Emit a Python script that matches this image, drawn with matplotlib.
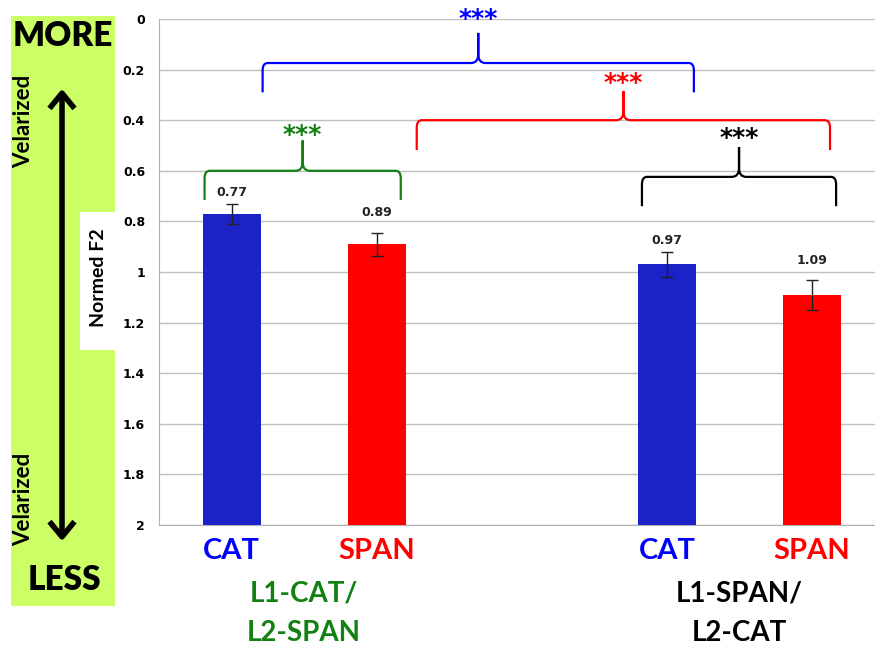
import matplotlib
matplotlib.use("Agg")
import matplotlib.pyplot as plt
from matplotlib.patches import Rectangle, PathPatch, FancyArrowPatch
from matplotlib.path import Path

W, H = 875, 647
DPI = 100

# ---- data ----
categories = ["CAT", "SPAN", "CAT", "SPAN"]
normed_f2 = [0.77, 0.89, 0.97, 1.09]
errors = [0.04, 0.045, 0.05, 0.06]
value_labels = ["0.77", "0.89", "0.97", "1.09"]
groups = ["L1-CAT/\nL2-SPAN", "L1-SPAN/\nL2-CAT"]
y_ticks = [0, 0.2, 0.4, 0.6, 0.8, 1.0, 1.2, 1.4, 1.6, 1.8, 2.0]
y_tick_labels = ["0", "0.2", "0.4", "0.6", "0.8", "1", "1.2", "1.4", "1.6", "1.8", "2"]

# ---- layout / style ----
positions = [0, 1, 3, 4]
bar_colors = ["#1a22c8", "#ff0000", "#1a22c8", "#ff0000"]
label_colors = ["#0000ff", "#ff0000", "#0000ff", "#ff0000"]
group_colors = ["#128012", "black"]
label_gap_px = [11, 20, 11, 19]
# (x0, x1, y level, y end, y peak, y stars, color)
brackets = [
    (-0.186, 1.166, 0.600, 0.715, 0.480, 0.460, "#128012"),
    (0.214, 3.186, 0.174, 0.290, 0.055, 0.000, "#0000ff"),
    (1.276, 4.124, 0.400, 0.518, 0.285, 0.252, "#ff0000"),
    (2.828, 4.166, 0.624, 0.740, 0.506, 0.472, "black"),
]
FONT = "Lato"


def fx(px):
    return px / W


def fy(py):
    return 1 - py / H


def brace_path(x0, x1, yh, yend, ypeak):
    xc = (x0 + x1) / 2
    dx, dy = 0.035, 0.03
    dcx, dcy = 0.05, 0.035
    verts = [
        (x0, yend), (x0, yh + dy),
        (x0, yh), (x0 + dx, yh),
        (xc - dcx, yh),
        (xc, yh), (xc, yh - dcy),
        (xc, ypeak),
        (xc, yh - dcy),
        (xc, yh), (xc + dcx, yh),
        (x1 - dx, yh),
        (x1, yh), (x1, yh + dy),
        (x1, yend),
    ]
    codes = [
        Path.MOVETO, Path.LINETO,
        Path.CURVE3, Path.CURVE3,
        Path.LINETO,
        Path.CURVE3, Path.CURVE3,
        Path.LINETO,
        Path.LINETO,
        Path.CURVE3, Path.CURVE3,
        Path.LINETO,
        Path.CURVE3, Path.CURVE3,
        Path.LINETO,
    ]
    return Path(verts, codes)


fig = plt.figure(figsize=(W / DPI, H / DPI), dpi=DPI)
fig.patch.set_facecolor("white")

# left green panel with the "Normed F2" notch
fig.patches.append(Rectangle((fx(11), fy(606)), fx(104), 590 / H,
                             transform=fig.transFigure, facecolor="#ccff66",
                             edgecolor="none", zorder=0))
fig.patches.append(Rectangle((fx(80), fy(350)), fx(36), 138 / H,
                             transform=fig.transFigure, facecolor="white",
                             edgecolor="none", zorder=1))
fig.text(fx(63), fy(36), "MORE", fontsize=24, fontweight="heavy", family=FONT,
         ha="center", va="center")
fig.text(fx(64), fy(580), "LESS", fontsize=24, fontweight="heavy", family=FONT,
         ha="center", va="center")
fig.text(fx(24), fy(121), "Velarized", fontsize=16, fontweight="bold", family=FONT,
         rotation=90, ha="center", va="center")
fig.text(fx(24), fy(499), "Velarized", fontsize=16, fontweight="bold", family=FONT,
         rotation=90, ha="center", va="center")
fig.text(fx(98), fy(278), "Normed F2", fontsize=14, fontweight="bold", family=FONT,
         rotation=90, ha="center", va="center")
fig.add_artist(FancyArrowPatch(
    (fx(62), fy(86)), (fx(62), fy(544)), transform=fig.transFigure,
    arrowstyle="<->,head_length=0.55,head_width=0.45", mutation_scale=20,
    lw=4, color="black", capstyle="butt"))

# main axes
ax = fig.add_axes([fx(159), fy(525), 1 - fx(159), (525 - 19) / H])
ax.set_xlim(-0.5, 4.434)
ax.set_ylim(2, 0)

ax.bar(positions, [2 - v for v in normed_f2], bottom=normed_f2, width=0.4,
       color=bar_colors, zorder=3)
ax.errorbar(positions, normed_f2, yerr=errors, fmt="none", ecolor="#222222",
            elinewidth=1, capsize=4, capthick=1, zorder=4)

for x, v, e, lab, gap in zip(positions, normed_f2, errors, value_labels, label_gap_px):
    ax.annotate(lab, (x, v - e), xytext=(0, gap * 72 / DPI), textcoords="offset points",
                ha="center", va="center", fontsize=9, fontweight="bold", color="#222222")

for x0, x1, yh, yend, ypeak, ystar, col in brackets:
    ax.add_patch(PathPatch(brace_path(x0, x1, yh, yend, ypeak), facecolor="none",
                           edgecolor=col, lw=1.6, clip_on=False, zorder=5))
    ax.text((x0 + x1) / 2, ystar, "***", color=col, fontsize=18, fontweight="heavy",
            ha="center", va="center", clip_on=False)

ax.set_yticks(y_ticks)
ax.set_yticklabels(y_tick_labels, fontsize=9, fontweight="bold")
ax.tick_params(axis="y", length=0, pad=10)
ax.set_xticks([])
ax.grid(axis="y", color="#c0c0c0", lw=1, zorder=0)
ax.set_axisbelow(True)
for side in ["top", "right"]:
    ax.spines[side].set_visible(False)
ax.spines["left"].set_color("#b0b0b0")
ax.spines["bottom"].set_color("#b0b0b0")

# category labels under the bars
for x, cat, col in zip(positions, categories, label_colors):
    ax.annotate(cat, (x, 2.0), xytext=(0, -26 * 72 / DPI), textcoords="offset points",
                color=col, fontsize=21, fontweight="bold", family=FONT,
                ha="center", va="center", annotation_clip=False)

# group labels
for i, (g, col) in enumerate(zip(groups, group_colors)):
    xc = (positions[2 * i] + positions[2 * i + 1]) / 2
    ax.annotate(g, (xc, 2.0), xytext=(0, -88 * 72 / DPI), textcoords="offset points",
                color=col, fontsize=20, fontweight="bold", family=FONT,
                ha="center", va="center", linespacing=1.65, annotation_clip=False)

fig.savefig("out.png", dpi=DPI)
